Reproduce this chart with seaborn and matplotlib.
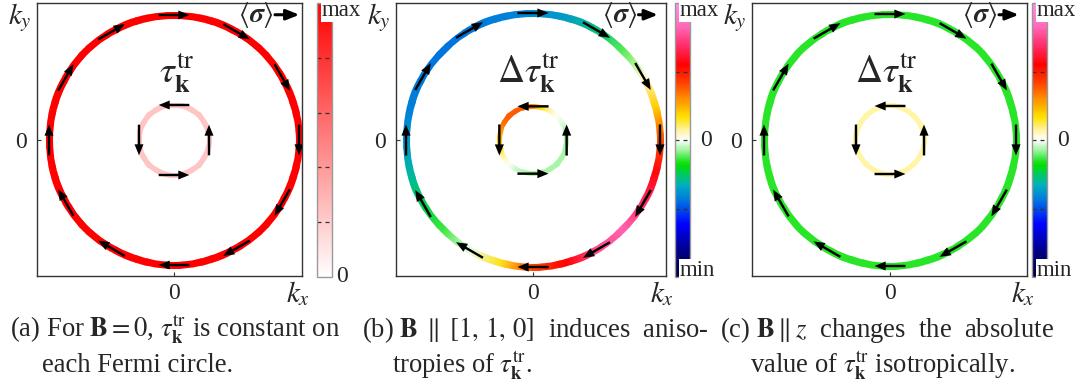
import numpy as np
import matplotlib
matplotlib.use("Agg")
import matplotlib.pyplot as plt
import seaborn as sns
from matplotlib.patches import Wedge
from matplotlib.colors import LinearSegmentedColormap, Normalize
from matplotlib.cm import ScalarMappable

# ---------------- data ----------------
ring_angles = [0, 15, 30, 45, 60, 75, 90, 105, 120, 135, 150, 165,
               180, 195, 210, 225, 240, 255, 270, 285, 300, 315, 330, 345]

# (a) B = 0  (normalised tau, 0..max)
a_outer = [1.0, 1.0, 1.0, 1.0, 1.0, 1.0, 1.0, 1.0, 1.0, 1.0, 1.0, 1.0,
           1.0, 1.0, 1.0, 1.0, 1.0, 1.0, 1.0, 1.0, 1.0, 1.0, 1.0, 1.0]
a_inner = [0.23, 0.23, 0.23, 0.23, 0.23, 0.23, 0.23, 0.23, 0.23, 0.23, 0.23, 0.23,
           0.23, 0.23, 0.23, 0.23, 0.23, 0.23, 0.23, 0.23, 0.23, 0.23, 0.23, 0.23]
# (b) B || [1,1,0]  (delta tau, min..max -> -1..1)
b_outer = [0.40, 0.20, 0.04, -0.12, -0.28, -0.36, -0.40, -0.42, -0.43, -0.44, -0.43, -0.42,
           -0.38, -0.31, -0.24, -0.14, -0.02, 0.15, 0.42, 0.55, 0.75, 0.82, 0.68, 0.57]
b_inner = [-0.07, -0.06, -0.03, 0.0, 0.06, 0.15, 0.30, 0.36, 0.38, 0.38, 0.35, 0.28,
           0.22, 0.15, 0.06, 0.0, -0.04, -0.06, -0.07, -0.07, -0.07, -0.07, -0.07, -0.07]
# (c) B || z
c_outer = [-0.15, -0.15, -0.15, -0.15, -0.15, -0.15, -0.15, -0.15, -0.15, -0.15, -0.15, -0.15,
           -0.15, -0.15, -0.15, -0.15, -0.15, -0.15, -0.15, -0.15, -0.15, -0.15, -0.15, -0.15]
c_inner = [0.07, 0.07, 0.07, 0.07, 0.07, 0.07, 0.07, 0.07, 0.07, 0.07, 0.07, 0.07,
           0.07, 0.07, 0.07, 0.07, 0.07, 0.07, 0.07, 0.07, 0.07, 0.07, 0.07, 0.07]

outer_arrow_angles = [0, 30, 60, 90, 120, 150, 180, 210, 240, 270, 300, 330]
inner_arrow_angles = [0, 90, 180, 270]

panel_titles = [r"$\tau^{\mathrm{tr}}_{\mathbf{k}}$",
                r"$\Delta\tau^{\mathrm{tr}}_{\mathbf{k}}$",
                r"$\Delta\tau^{\mathrm{tr}}_{\mathbf{k}}$"]
captions = [
    (r"(a) For $\mathbf{B}=0$, $\tau^{\mathrm{tr}}_{\mathbf{k}}$ is constant on",
     "each Fermi circle."),
    (r"(b) $\mathbf{B}\;\parallel\;[1,\,1,\,0]$  induces  aniso-",
     r"tropies of $\tau^{\mathrm{tr}}_{\mathbf{k}}$."),
    (r"(c) $\mathbf{B}\parallel z$  changes  the  absolute",
     r"value of $\tau^{\mathrm{tr}}_{\mathbf{k}}$ isotropically."),
]
cbar_labels = [("max", "0", None), ("max", "min", "0"), ("max", "min", "0")]

# ---------------- style ----------------
sns.set_style("white")
plt.rcParams["font.family"] = ["Liberation Serif", "DejaVu Serif"]
plt.rcParams["mathtext.fontset"] = "stix"

W, H = 1078, 390
fig = plt.figure(figsize=(W / 100, H / 100), dpi=100)

def fx(px):
    return px / W

def fy(py):
    return 1 - py / H

cmap_a = sns.blend_palette(["#ffffff", "#ff0000"], as_cmap=True)
rain_stops = [(-1.0, "#000033"), (-0.8, "#000090"), (-0.62, "#0000ff"),
              (-0.45, "#0070e0"), (-0.33, "#00b0c0"), (-0.18, "#00e000"),
              (-0.05, "#c0f8c0"), (0.0, "#ffffff"), (0.05, "#fff8c0"),
              (0.17, "#ffe000"), (0.30, "#ff9000"), (0.42, "#ff4000"),
              (0.55, "#ff0000"), (0.70, "#ff3070"), (0.85, "#ff70c0"),
              (1.0, "#ff90e8")]
cmap_r = LinearSegmentedColormap.from_list(
    "rain", [((v + 1) / 2, c) for v, c in rain_stops])

# layout in pixels: (ax_left, ax_right, ax_top, ax_bottom, cx, cy, R, cb_left, cb_right)
layouts = [
    (37, 302, 3, 276, 174, 140, 125, 317, 332),
    (396, 666, 3, 276, 533, 140, 127, 675, 690),
    (752, 1027, 3, 276, 890, 140, 126, 1032, 1047),
]
data = [(a_outer, a_inner, cmap_a, Normalize(0, 1)),
        (b_outer, b_inner, cmap_r, Normalize(-1, 1)),
        (c_outer, c_inner, cmap_r, Normalize(-1, 1))]
inner_r = [0.28, 0.265, 0.27]
cap_x = [(10, 42), (362, 392), (720, 750)]

theta = np.deg2rad(np.array(ring_angles + [360]))
half_step = np.deg2rad(7.5)

for i in range(3):
    L, Rt, T, B, cx, cy, Rpx, cbl, cbr = layouts[i]
    outer, inner, cmap, norm = data[i]
    ax = fig.add_axes([fx(L), fy(B), fx(Rt - L), (B - T) / H])
    ax.set_xlim(-(cx - L) / Rpx, (Rt - cx) / Rpx)
    ax.set_ylim(-(B - cy) / Rpx, (cy - T) / Rpx)
    ax.set_aspect("auto")
    for s in ax.spines.values():
        s.set_color("#333333")
        s.set_linewidth(1.0)

    # rings: Gouraud-shaded mesh from the values at ring_angles, clipped to a round annulus
    for vals, r, w in [(outer, 1.0, 7.0 / Rpx), (inner, inner_r[i], 5.0 / Rpx)]:
        radii = np.array([[r - w / 2 - 0.01], [(r + w / 2) / np.cos(half_step) + 0.01]])
        X = radii * np.cos(theta)[None, :]
        Y = radii * np.sin(theta)[None, :]
        v = np.array(vals + [vals[0]])
        C = np.vstack([v, v])
        mesh = ax.pcolormesh(X, Y, C, shading="gouraud", cmap=cmap, norm=norm,
                             antialiased=True, zorder=2)
        clip = Wedge((0, 0), r + w / 2, 0, 360, width=w, transform=ax.transData)
        mesh.set_clip_path(clip)

    # arrows (polygon arrows, units of outer radius)
    L_arr = 0.245
    for angs, r, sgn in [(outer_arrow_angles, 1.0, -1), (inner_arrow_angles, inner_r[i], 1)]:
        for ang in angs:
            t = np.deg2rad(ang)
            px, py = r * np.cos(t), r * np.sin(t)
            tx, ty = -np.sin(t) * sgn, np.cos(t) * sgn
            ax.arrow(px - tx * L_arr / 2, py - ty * L_arr / 2, tx * L_arr, ty * L_arr,
                     width=0.019, head_width=0.072, head_length=0.088,
                     length_includes_head=True, color="black", lw=0, zorder=5)

    # ticks
    ax.set_xticks([0])
    ax.set_yticks([0])
    ax.set_xticklabels(["0"], fontsize=17)
    ax.set_yticklabels(["0"], fontsize=17)
    ax.tick_params(direction="in", length=3, width=0.8, color="#333333",
                   bottom=True, left=True)
    ax.tick_params(axis="x", pad=5)
    ax.tick_params(axis="y", pad=7)

    # axis labels
    ax.text(-17 / (Rt - L), 1 - 15 / (B - T), r"$k_y$", transform=ax.transAxes,
            ha="center", va="center", fontsize=21)
    ax.text(1 - 4 / (Rt - L), -18 / (B - T), r"$k_x$", transform=ax.transAxes,
            ha="center", va="center", fontsize=21)

    # center label
    ax.text([0.528, 0.489, 0.49][i], 0.745, panel_titles[i], transform=ax.transAxes,
            ha="center", va="center", fontsize=27)

    # sigma label with arrow
    ax.text(0.895, 0.955, r"$\langle\mathbfit{\sigma}\rangle$", transform=ax.transAxes,
            ha="right", va="center", fontsize=20)
    x0 = 0.898
    x1 = 0.99 if i == 0 else 0.97
    ax.annotate("", xy=(x1, 0.957), xytext=(x0, 0.957),
                xycoords="axes fraction", textcoords="axes fraction",
                arrowprops=dict(arrowstyle="-|>,head_length=0.55,head_width=0.22",
                                color="black", lw=2.2, shrinkA=0, shrinkB=0,
                                mutation_scale=14))

    # colorbar
    cax = fig.add_axes([fx(cbl), fy(277), fx(cbr - cbl), 274 / H])
    cb = fig.colorbar(ScalarMappable(norm=norm, cmap=cmap), cax=cax)
    cb.set_ticks([])
    cb.outline.set_edgecolor("#999999")
    cb.outline.set_linewidth(1.0)
    if i == 0:
        dash_vals = [0.2, 0.4, 0.6, 0.8]
    else:
        dash_vals = [-0.5, 0.0, 0.5]
    for dv in dash_vals:
        cax.axhline(dv, color="#333333", lw=0.9, ls=(0, (3.2, 3.2)))
    top_lab, bot_lab, mid_lab = cbar_labels[i]
    box = dict(facecolor="white", edgecolor="none", pad=0.5)
    fig.text(fx(cbl + 5), fy(11), top_lab, ha="left", va="center", fontsize=16.5,
             bbox=box)
    if i == 0:
        fig.text(fx(cbr + 4), fy(276), bot_lab, ha="left", va="center", fontsize=17)
    else:
        fig.text(fx(cbl + 5), fy(270), bot_lab, ha="left", va="center", fontsize=16.5,
                 bbox=box)
        fig.text(fx(cbr + 10), fy(140), mid_lab, ha="left", va="center", fontsize=17)

    # captions
    l1, l2 = captions[i]
    x1c, x2c = cap_x[i]
    fig.text(fx(x1c), fy(330), l1, ha="left", va="center", fontsize=19.2)
    fig.text(fx(x2c), fy(366), l2, ha="left", va="center", fontsize=19.2)

fig.savefig("out.png", dpi=100)
